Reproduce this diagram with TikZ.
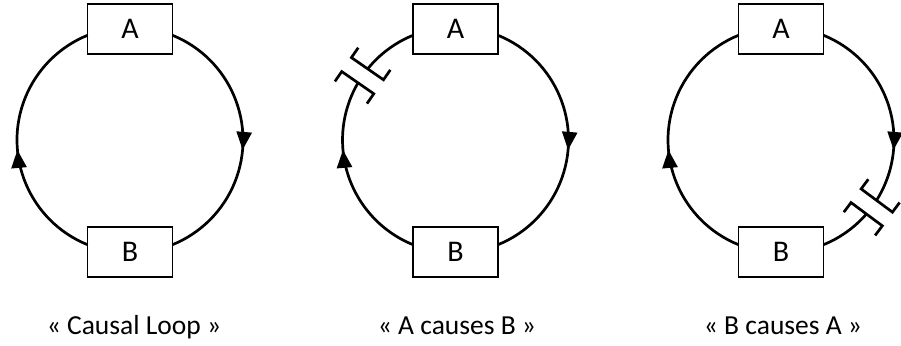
\documentclass[tikz,border=0pt]{standalone}
\usepackage{fontspec}
\setmainfont{Carlito}
\usetikzlibrary{arrows.meta,decorations.markings}
\begin{document}
\begin{tikzpicture}[x=1pt,y=1pt,
  box/.style={draw, line width=1.9pt, minimum width=85pt, minimum height=50pt,
    inner sep=0pt, outer sep=0pt, font=\fontsize{30}{34}\selectfont},
  link/.style={line width=2.7pt},
  caption/.style={anchor=base, font=\fontsize{27.5}{32}\selectfont},
  midarrow/.style={postaction={decorate}, decoration={markings,
    mark=at position #1 with {\arrow{Triangle[width=15pt,length=18pt]}}}},
  delaymark/.style={line width=2.7pt}
]
\useasboundingbox (0,0) rectangle (901,345);

% ---------- Diagram 1: Causal loop ----------
\begin{scope}[shift={(130,205)}]
  \node[box] (A1) at (0,111) {A};
  \node[box] (B1) at (0,-112) {B};
  \draw[link, midarrow=0.537] ([yshift=-6.3pt]A1.east)
    arc[start angle=67.9, end angle=-67.9, radius=113pt];
  \draw[link, midarrow=0.463] ([yshift=7.3pt]B1.west)
    arc[start angle=247.9, end angle=112.1, radius=113pt];
\end{scope}

% ---------- Diagram 2: A causes B ----------
\begin{scope}[shift={(455.5,205)}]
  \node[box] (A2) at (0,111) {A};
  \node[box] (B2) at (0,-112) {B};
  \draw[link, midarrow=0.537] ([yshift=-6.3pt]A2.east)
    arc[start angle=67.9, end angle=-67.9, radius=113pt];
  \draw[link, midarrow=0.640] ([yshift=7.3pt]B2.west)
    arc[start angle=247.9, end angle=149.6, radius=113pt];
  \draw[link] ([yshift=-6.3pt]A2.west)
    arc[start angle=112.1, end angle=141.0, radius=113pt];
  \begin{scope}[shift={(145.3:113pt)}, rotate=145.3]
    \draw[delaymark] (-19.5,-20.5) -- (-19.5,-8.5) -- (19.5,-8.5) -- (19.5,-20.5);
    \draw[delaymark] (-19.5,20.5) -- (-19.5,8.5) -- (19.5,8.5) -- (19.5,20.5);
  \end{scope}
\end{scope}

% ---------- Diagram 3: B causes A ----------
\begin{scope}[shift={(781,205)}]
  \node[box] (A3) at (0,111) {A};
  \node[box] (B3) at (0,-112) {B};
  \draw[link, midarrow=0.728] ([yshift=-6.3pt]A3.east)
    arc[start angle=67.9, end angle=-32.3, radius=113pt];
  \draw[link] ([yshift=7.3pt]B3.east)
    arc[start angle=-67.9, end angle=-40.9, radius=113pt];
  \draw[link, midarrow=0.463] ([yshift=7.3pt]B3.west)
    arc[start angle=247.9, end angle=112.1, radius=113pt];
  \begin{scope}[shift={(-36.6:113pt)}, rotate=-36.6]
    \draw[delaymark] (-19.5,-20.5) -- (-19.5,-8.5) -- (19.5,-8.5) -- (19.5,-20.5);
    \draw[delaymark] (-19.5,20.5) -- (-19.5,8.5) -- (19.5,8.5) -- (19.5,20.5);
  \end{scope}
\end{scope}

% ---------- Captions ----------
\node[caption] (c1) at (134,10) {« Causal Loop »};
\node[caption] (c2) at (457,10) {« A causes B »};
\node[caption] (c3) at (783,10) {« B causes A »};
\end{tikzpicture}
\end{document}
